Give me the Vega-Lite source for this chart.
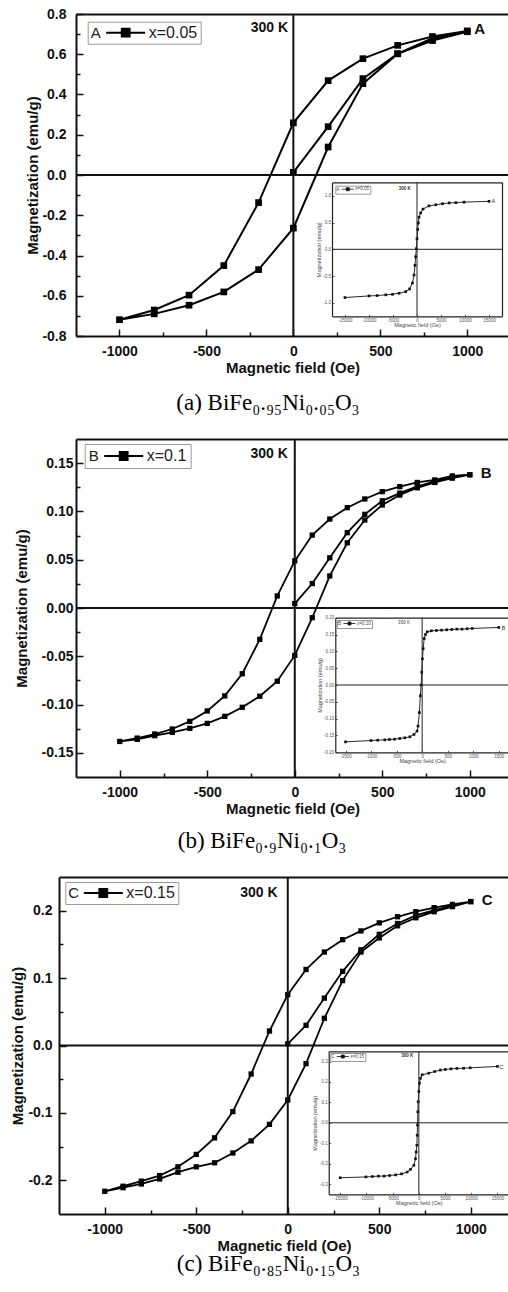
{
"$schema":"https://vega.github.io/schema/vega-lite/v6.json",
"padding":{"left":10,"top":7,"right":0,"bottom":0},
"background":"#ffffff",
"spacing":23,
"config":{"view":{"stroke":null},"font":"Liberation Sans","axis":{"grid":false,"labelFont":"Liberation Sans","titleFont":"Liberation Sans"},"legend":{"labelFont":"Liberation Sans","titleFont":"Liberation Sans"}},
"datasets":{
"A":[{"i":0,"H":0,"M":0.013},{"i":1,"H":200,"M":0.24},{"i":2,"H":400,"M":0.479},{"i":3,"H":600,"M":0.603},{"i":4,"H":800,"M":0.68},{"i":5,"H":1000,"M":0.716},{"i":6,"H":800,"M":0.688},{"i":7,"H":600,"M":0.644},{"i":8,"H":400,"M":0.578},{"i":9,"H":200,"M":0.469},{"i":10,"H":0,"M":0.259},{"i":11,"H":-200,"M":-0.137},{"i":12,"H":-400,"M":-0.45},{"i":13,"H":-600,"M":-0.597},{"i":14,"H":-800,"M":-0.671},{"i":15,"H":-1000,"M":-0.719},{"i":16,"H":-800,"M":-0.69},{"i":17,"H":-600,"M":-0.647},{"i":18,"H":-400,"M":-0.581},{"i":19,"H":-200,"M":-0.47},{"i":20,"H":0,"M":-0.264},{"i":21,"H":200,"M":0.139},{"i":22,"H":400,"M":0.454},{"i":23,"H":600,"M":0.602},{"i":24,"H":800,"M":0.668},{"i":25,"H":1000,"M":0.712}],
"B":[{"i":0,"H":0,"M":0.0046},{"i":1,"H":100,"M":0.0253},{"i":2,"H":200,"M":0.052},{"i":3,"H":300,"M":0.078},{"i":4,"H":400,"M":0.097},{"i":5,"H":500,"M":0.111},{"i":6,"H":600,"M":0.119},{"i":7,"H":700,"M":0.126},{"i":8,"H":800,"M":0.131},{"i":9,"H":900,"M":0.135},{"i":10,"H":1000,"M":0.138},{"i":11,"H":900,"M":0.1368},{"i":12,"H":800,"M":0.1326},{"i":13,"H":700,"M":0.13},{"i":14,"H":600,"M":0.1257},{"i":15,"H":500,"M":0.1205},{"i":16,"H":400,"M":0.1129},{"i":17,"H":300,"M":0.1039},{"i":18,"H":200,"M":0.0921},{"i":19,"H":100,"M":0.0755},{"i":20,"H":0,"M":0.0488},{"i":21,"H":-100,"M":0.0125},{"i":22,"H":-200,"M":-0.0325},{"i":23,"H":-300,"M":-0.0681},{"i":24,"H":-400,"M":-0.091},{"i":25,"H":-500,"M":-0.1066},{"i":26,"H":-600,"M":-0.1174},{"i":27,"H":-700,"M":-0.1253},{"i":28,"H":-800,"M":-0.1305},{"i":29,"H":-900,"M":-0.1347},{"i":30,"H":-1000,"M":-0.1382},{"i":31,"H":-900,"M":-0.136},{"i":32,"H":-800,"M":-0.1322},{"i":33,"H":-700,"M":-0.1288},{"i":34,"H":-600,"M":-0.1246},{"i":35,"H":-500,"M":-0.1195},{"i":36,"H":-400,"M":-0.1122},{"i":37,"H":-300,"M":-0.1028},{"i":38,"H":-200,"M":-0.0914},{"i":39,"H":-100,"M":-0.0758},{"i":40,"H":0,"M":-0.0491},{"i":41,"H":100,"M":-0.01},{"i":42,"H":200,"M":0.0332},{"i":43,"H":300,"M":0.0675},{"i":44,"H":400,"M":0.0911},{"i":45,"H":500,"M":0.1067},{"i":46,"H":600,"M":0.117},{"i":47,"H":700,"M":0.1245},{"i":48,"H":800,"M":0.13},{"i":49,"H":900,"M":0.1345},{"i":50,"H":1000,"M":0.138}],
"C":[{"i":0,"H":0,"M":0.0025},{"i":1,"H":100,"M":0.03},{"i":2,"H":200,"M":0.0703},{"i":3,"H":300,"M":0.11},{"i":4,"H":400,"M":0.142},{"i":5,"H":500,"M":0.165},{"i":6,"H":600,"M":0.181},{"i":7,"H":700,"M":0.193},{"i":8,"H":800,"M":0.201},{"i":9,"H":900,"M":0.207},{"i":10,"H":1000,"M":0.2135},{"i":11,"H":900,"M":0.2094},{"i":12,"H":800,"M":0.2045},{"i":13,"H":700,"M":0.1985},{"i":14,"H":600,"M":0.191},{"i":15,"H":500,"M":0.182},{"i":16,"H":400,"M":0.17},{"i":17,"H":300,"M":0.157},{"i":18,"H":200,"M":0.1387},{"i":19,"H":100,"M":0.1128},{"i":20,"H":0,"M":0.0754},{"i":21,"H":-100,"M":0.0215},{"i":22,"H":-200,"M":-0.0423},{"i":23,"H":-300,"M":-0.0981},{"i":24,"H":-400,"M":-0.137},{"i":25,"H":-500,"M":-0.1616},{"i":26,"H":-600,"M":-0.18},{"i":27,"H":-700,"M":-0.193},{"i":28,"H":-800,"M":-0.2013},{"i":29,"H":-900,"M":-0.2088},{"i":30,"H":-1000,"M":-0.2163},{"i":31,"H":-900,"M":-0.211},{"i":32,"H":-800,"M":-0.2054},{"i":33,"H":-700,"M":-0.198},{"i":34,"H":-600,"M":-0.188},{"i":35,"H":-500,"M":-0.18},{"i":36,"H":-400,"M":-0.174},{"i":37,"H":-300,"M":-0.1595},{"i":38,"H":-200,"M":-0.1415},{"i":39,"H":-100,"M":-0.117},{"i":40,"H":0,"M":-0.0808},{"i":41,"H":100,"M":-0.0269},{"i":42,"H":200,"M":0.0404},{"i":43,"H":300,"M":0.0963},{"i":44,"H":400,"M":0.1387},{"i":45,"H":500,"M":0.1596},{"i":46,"H":600,"M":0.1776},{"i":47,"H":700,"M":0.1895},{"i":48,"H":800,"M":0.1985},{"i":49,"H":900,"M":0.206},{"i":50,"H":1000,"M":0.2135}],
"iA":[{"i":0,"H":-15000,"M":-0.9},{"i":1,"H":-10000,"M":-0.87},{"i":2,"H":-8300,"M":-0.863},{"i":3,"H":-6500,"M":-0.85},{"i":4,"H":-5100,"M":-0.84},{"i":5,"H":-3750,"M":-0.82},{"i":6,"H":-2350,"M":-0.79},{"i":7,"H":-1550,"M":-0.74},{"i":8,"H":-950,"M":-0.63},{"i":9,"H":-620,"M":-0.48},{"i":10,"H":-420,"M":-0.3},{"i":11,"H":-280,"M":-0.14},{"i":12,"H":-140,"M":0.01},{"i":13,"H":0,"M":0.2},{"i":14,"H":140,"M":0.37},{"i":15,"H":280,"M":0.49},{"i":16,"H":420,"M":0.6},{"i":17,"H":770,"M":0.68},{"i":18,"H":1250,"M":0.75},{"i":19,"H":2500,"M":0.81},{"i":20,"H":3900,"M":0.83},{"i":21,"H":5300,"M":0.85},{"i":22,"H":6700,"M":0.865},{"i":23,"H":8100,"M":0.87},{"i":24,"H":9800,"M":0.88},{"i":25,"H":15000,"M":0.895}],
"iB":[{"i":0,"H":-1500,"M":-0.169},{"i":1,"H":-1000,"M":-0.165},{"i":2,"H":-870,"M":-0.164},{"i":3,"H":-730,"M":-0.163},{"i":4,"H":-640,"M":-0.162},{"i":5,"H":-540,"M":-0.161},{"i":6,"H":-440,"M":-0.159},{"i":7,"H":-340,"M":-0.157},{"i":8,"H":-240,"M":-0.154},{"i":9,"H":-160,"M":-0.147},{"i":10,"H":-100,"M":-0.137},{"i":11,"H":-80,"M":-0.122},{"i":12,"H":-55,"M":-0.082},{"i":13,"H":-35,"M":-0.032},{"i":14,"H":-20,"M":0.0},{"i":15,"H":-8,"M":0.038},{"i":16,"H":6,"M":0.078},{"i":17,"H":20,"M":0.108},{"i":18,"H":40,"M":0.138},{"i":19,"H":65,"M":0.15},{"i":20,"H":100,"M":0.158},{"i":21,"H":180,"M":0.161},{"i":22,"H":280,"M":0.162},{"i":23,"H":380,"M":0.163},{"i":24,"H":480,"M":0.164},{"i":25,"H":580,"M":0.165},{"i":26,"H":680,"M":0.166},{"i":27,"H":780,"M":0.166},{"i":28,"H":880,"M":0.167},{"i":29,"H":980,"M":0.168},{"i":30,"H":1500,"M":0.171}],
"iC":[{"i":0,"H":-15000,"M":-0.269},{"i":1,"H":-10100,"M":-0.265},{"i":2,"H":-8860,"M":-0.263},{"i":3,"H":-7720,"M":-0.261},{"i":4,"H":-6640,"M":-0.261},{"i":5,"H":-5570,"M":-0.258},{"i":6,"H":-4430,"M":-0.255},{"i":7,"H":-3300,"M":-0.25},{"i":8,"H":-2220,"M":-0.241},{"i":9,"H":-1590,"M":-0.228},{"i":10,"H":-950,"M":-0.208},{"i":11,"H":-640,"M":-0.176},{"i":12,"H":-510,"M":-0.143},{"i":13,"H":-380,"M":-0.11},{"i":14,"H":-320,"M":-0.061},{"i":15,"H":-260,"M":-0.011},{"i":16,"H":-190,"M":0.054},{"i":17,"H":-130,"M":0.103},{"i":18,"H":0,"M":0.153},{"i":19,"H":120,"M":0.194},{"i":20,"H":300,"M":0.218},{"i":21,"H":630,"M":0.235},{"i":22,"H":1900,"M":0.243},{"i":23,"H":3030,"M":0.251},{"i":24,"H":4100,"M":0.258},{"i":25,"H":5050,"M":0.261},{"i":26,"H":6130,"M":0.264},{"i":27,"H":7270,"M":0.266},{"i":28,"H":8540,"M":0.267},{"i":29,"H":9800,"M":0.269},{"i":30,"H":15000,"M":0.276}]
},
"vconcat":[
{
"width":433,"height":322,
"title":{"text":"(a) BiFe₀.₉₅Ni₀.₀₅O₃","orient":"bottom","anchor":"middle","frame":"bounds","font":"Liberation Serif","fontSize":23,"fontWeight":"normal","color":"#000000","offset":17},
"resolve":{"scale":{"x":"independent","y":"independent","color":"independent"}},
"layer":[
{"resolve":{"axis":{"x":"independent","y":"independent"}},
"layer":[
{"data":{"name":"A"},"mark":{"type":"line","strokeWidth":2},
"encoding":{
"x":{"field":"H","type":"quantitative","scale":{"domain":[-1250,1240],"range":[0,433],"nice":false,"zero":false},"axis":{"orient":"bottom","values":[-1000,-500,0,500,1000],"format":"d","labelExpr":"replace(datum.label,'−','-')","tickSize":-7,"tickWidth":1.5,"tickColor":"#111","domainWidth":2,"domainColor":"#111","labelFontWeight":"bold","labelFontSize":14,"labelColor":"#111","labelPadding":15,"labelFlush":false,"title":"Magnetic  field (Oe)","titleFontSize":15,"titleFontWeight":"bold","titleColor":"#111","titlePadding":2}},
"y":{"field":"M","type":"quantitative","scale":{"domain":[-0.8,0.8],"nice":false,"zero":false},"axis":{"orient":"left","values":[-0.8,-0.6,-0.4,-0.2,0,0.2,0.4,0.6,0.8],"format":".1f","labelExpr":"replace(datum.label,'−','-')","tickSize":-7,"tickWidth":1.5,"tickColor":"#111","domainWidth":2,"domainColor":"#111","labelFontWeight":"bold","labelFontSize":14,"labelColor":"#111","labelPadding":17,"title":"Magnetization (emu/g)","titleFontSize":15,"titleFontWeight":"bold","titleColor":"#111","titlePadding":1}},
"order":{"field":"i"},
"color":{"datum":"x=0.05","type":"nominal","scale":{"range":["#000000"]},"legend":{"title":"A","orient":"none","legendX":11.7,"legendY":7.7,"titleOrient":"left","titleAnchor":"middle","titleBaseline":"middle","titleFontSize":15,"titleFontWeight":"normal","titleColor":"#222","titlePadding":16,"labelFontSize":16,"labelColor":"#222","labelOffset":15,"symbolType":"M-3,0H3M-0.6,-0.6H0.6V0.6H-0.6Z","symbolSize":169,"symbolStrokeWidth":2,"strokeColor":"#9a9a9a","fillColor":"#ffffff","padding":3,"encode":{"symbols":{"update":{"fill":{"value":"#000"},"stroke":{"value":"#000"},"strokeWidth":{"value":2},"opacity":{"value":1}}}}}}}},
{"data":{"name":"A"},"mark":{"type":"point","shape":"square","filled":true,"size":45,"color":"#000","opacity":1},
"encoding":{
"x":{"field":"H","type":"quantitative","scale":{"domain":[-1250,1240],"range":[0,433],"nice":false,"zero":false},"axis":{"orient":"bottom","values":[-750,-250,250,750],"labels":false,"domain":false,"tickSize":-4,"tickWidth":1.5,"tickColor":"#111","title":null}},
"y":{"field":"M","type":"quantitative","scale":{"domain":[-0.8,0.8],"nice":false,"zero":false},"axis":{"orient":"left","values":[-0.7,-0.5,-0.3,-0.1,0.1,0.3,0.5,0.7],"labels":false,"domain":false,"tickSize":-4,"tickWidth":1.5,"tickColor":"#111","title":null}}}},
{"data":{"values":[{}]},"mark":{"type":"rule","strokeWidth":2,"color":"#111"},
"encoding":{"x":{"datum":0,"type":"quantitative","scale":{"domain":[-1250,1240],"range":[0,433],"nice":false,"zero":false},"axis":{"orient":"top","labels":false,"ticks":false,"domainWidth":2,"domainColor":"#111","title":null}}}},
{"data":{"values":[{}]},"mark":{"type":"rule","strokeWidth":2,"color":"#111"},
"encoding":{"y":{"datum":0,"type":"quantitative","scale":{"domain":[-0.8,0.8],"nice":false,"zero":false},"axis":null},"x":{"datum":-1250,"type":"quantitative","scale":{"domain":[-1250,1240],"range":[0,433],"nice":false,"zero":false},"axis":null},"x2":{"datum":1240}}},
{"data":{"values":[{"H":-30,"M":0.731,"t":"300 K"}]},"mark":{"type":"text","align":"right","baseline":"middle","fontWeight":"bold","fontSize":14,"color":"#111"},
"encoding":{"x":{"field":"H","type":"quantitative","scale":{"domain":[-1250,1240],"range":[0,433],"nice":false,"zero":false},"axis":null},"y":{"field":"M","type":"quantitative","scale":{"domain":[-0.8,0.8],"nice":false,"zero":false},"axis":null},"text":{"field":"t"}}},
{"data":{"values":[{"H":1040,"M":0.723,"t":"A"}]},"mark":{"type":"text","align":"left","baseline":"middle","fontWeight":"bold","fontSize":15,"color":"#111"},
"encoding":{"x":{"field":"H","type":"quantitative","scale":{"domain":[-1250,1240],"range":[0,433],"nice":false,"zero":false},"axis":null},"y":{"field":"M","type":"quantitative","scale":{"domain":[-0.8,0.8],"nice":false,"zero":false},"axis":null},"text":{"field":"t"}}}
]},
{"resolve":{"axis":{"x":"independent","y":"independent"}},
"layer":[
{"data":{"name":"iA"},"mark":{"type":"line","strokeWidth":0.9},
"encoding":{
"x":{"field":"H","type":"quantitative","scale":{"domain":[-17700,17700],"range":[256,426],"nice":false,"zero":false},"axis":{"orient":"bottom","offset":-19.7,"values":[-15000,-10000,-5000,0,5000,10000,15000],"format":"d","labelExpr":"replace(datum.label,'−','-')","tickSize":-2,"tickWidth":0.8,"tickColor":"#333","domainWidth":1.2,"domainColor":"#222","labelFontSize":4.5,"labelColor":"#555","labelPadding":3.5,"labelFlush":false,"labelOverlap":false,"title":"Magnetic  field (Oe)","titleFontSize":5.5,"titleFontWeight":"normal","titleColor":"#444","titlePadding":0.5}},
"y":{"field":"M","type":"quantitative","scale":{"domain":[-1.25,1.25],"range":[302.3,168.3],"nice":false,"zero":false},"axis":{"orient":"left","offset":-256,"values":[-1,-0.5,0,0.5,1],"format":".1f","labelExpr":"replace(datum.label,'−','-')","tickSize":-2,"tickWidth":0.8,"tickColor":"#333","domainWidth":1.2,"domainColor":"#222","labelFontSize":4.5,"labelColor":"#555","labelPadding":3.5,"labelOverlap":false,"title":"Magnetization (emu/g)","titleFontSize":5.5,"titleFontWeight":"normal","titleColor":"#444","titlePadding":1.5}},
"order":{"field":"i"},
"color":{"datum":"x=0.05","type":"nominal","scale":{"range":["#111111"]},"legend":{"title":"A","orient":"none","legendX":259.3,"legendY":171.7,"titleOrient":"left","titleAnchor":"middle","titleBaseline":"middle","titleFontSize":4.5,"titleFontWeight":"normal","titleColor":"#444","titlePadding":5,"labelFontSize":4.5,"labelColor":"#444","labelOffset":5,"symbolType":"M-3,0H3M-0.75,-0.75H0.75V0.75H-0.75Z","symbolSize":16,"symbolStrokeWidth":0.8,"strokeColor":"#999","fillColor":"#ffffff","padding":1,"encode":{"symbols":{"update":{"fill":{"value":"#111"},"stroke":{"value":"#111"},"strokeWidth":{"value":0.8},"opacity":{"value":1}}}}}}}},
{"data":{"name":"iA"},"mark":{"type":"point","shape":"square","filled":true,"size":7,"color":"#111","opacity":1},
"encoding":{
"x":{"field":"H","type":"quantitative","scale":{"domain":[-17700,17700],"range":[256,426],"nice":false,"zero":false},"axis":{"orient":"top","offset":-168.3,"labels":false,"ticks":false,"domainWidth":1.2,"domainColor":"#222","title":null}},
"y":{"field":"M","type":"quantitative","scale":{"domain":[-1.25,1.25],"range":[302.3,168.3],"nice":false,"zero":false},"axis":{"orient":"right","offset":-7,"labels":false,"ticks":false,"domainWidth":1.2,"domainColor":"#222","title":null}}}},
{"data":{"values":[{}]},"mark":{"type":"rule","strokeWidth":1,"color":"#222"},
"encoding":{"x":{"datum":0,"type":"quantitative","scale":{"domain":[-17700,17700],"range":[256,426],"nice":false,"zero":false},"axis":null},"y":{"datum":-1.25,"type":"quantitative","scale":{"domain":[-1.25,1.25],"range":[302.3,168.3],"nice":false,"zero":false},"axis":null},"y2":{"datum":1.25}}},
{"data":{"values":[{}]},"mark":{"type":"rule","strokeWidth":1,"color":"#222"},
"encoding":{"y":{"datum":0,"type":"quantitative","scale":{"domain":[-1.25,1.25],"range":[302.3,168.3],"nice":false,"zero":false},"axis":null},"x":{"datum":-17700,"type":"quantitative","scale":{"domain":[-17700,17700],"range":[256,426],"nice":false,"zero":false},"axis":null},"x2":{"datum":17700}}},
{"data":{"values":[{"H":-1300,"M":1.125,"t":"300 K"}]},"mark":{"type":"text","align":"right","baseline":"middle","fontWeight":"bold","fontSize":4.5,"color":"#333"},
"encoding":{"x":{"field":"H","type":"quantitative","scale":{"domain":[-17700,17700],"range":[256,426],"nice":false,"zero":false},"axis":null},"y":{"field":"M","type":"quantitative","scale":{"domain":[-1.25,1.25],"range":[302.3,168.3],"nice":false,"zero":false},"axis":null},"text":{"field":"t"}}},
{"data":{"values":[{"H":15500,"M":0.9,"t":"A"}]},"mark":{"type":"text","align":"left","baseline":"middle","fontSize":5.5,"color":"#333"},
"encoding":{"x":{"field":"H","type":"quantitative","scale":{"domain":[-17700,17700],"range":[256,426],"nice":false,"zero":false},"axis":null},"y":{"field":"M","type":"quantitative","scale":{"domain":[-1.25,1.25],"range":[302.3,168.3],"nice":false,"zero":false},"axis":null},"text":{"field":"t"}}}
]}
]
},
{
"width":433,"height":338,
"title":{"text":"(b) BiFe₀.₉Ni₀.₁O₃","orient":"bottom","anchor":"middle","frame":"bounds","font":"Liberation Serif","fontSize":23,"fontWeight":"normal","color":"#000000","offset":14},
"resolve":{"scale":{"x":"independent","y":"independent","color":"independent"}},
"layer":[
{"resolve":{"axis":{"x":"independent","y":"independent"}},
"layer":[
{"data":{"name":"B"},"mark":{"type":"line","strokeWidth":1.8},
"encoding":{
"x":{"field":"H","type":"quantitative","scale":{"domain":[-1250,1224],"range":[0,433],"nice":false,"zero":false},"axis":{"orient":"bottom","values":[-1000,-500,0,500,1000],"format":"d","labelExpr":"replace(datum.label,'−','-')","tickSize":-7,"tickWidth":1.5,"tickColor":"#111","domainWidth":2,"domainColor":"#111","labelFontWeight":"bold","labelFontSize":14,"labelColor":"#111","labelPadding":15,"labelFlush":false,"title":"Magnetic  field (Oe)","titleFontSize":15,"titleFontWeight":"bold","titleColor":"#111","titlePadding":2}},
"y":{"field":"M","type":"quantitative","scale":{"domain":[-0.175,0.175],"nice":false,"zero":false},"axis":{"orient":"left","values":[-0.15,-0.1,-0.05,0,0.05,0.1,0.15],"format":".2f","labelExpr":"replace(datum.label,'−','-')","tickSize":-7,"tickWidth":1.5,"tickColor":"#111","domainWidth":2,"domainColor":"#111","labelFontWeight":"bold","labelFontSize":14,"labelColor":"#111","labelPadding":10,"title":"Magnetization (emu/g)","titleFontSize":15,"titleFontWeight":"bold","titleColor":"#111","titlePadding":12}},
"order":{"field":"i"},
"color":{"datum":"x=0.1","type":"nominal","scale":{"range":["#000000"]},"legend":{"title":"B","orient":"none","legendX":8.7,"legendY":5,"titleOrient":"left","titleAnchor":"middle","titleBaseline":"middle","titleFontSize":15,"titleFontWeight":"normal","titleColor":"#222","titlePadding":16,"labelFontSize":16,"labelColor":"#222","labelOffset":15,"symbolType":"M-3,0H3M-0.6,-0.6H0.6V0.6H-0.6Z","symbolSize":169,"symbolStrokeWidth":2,"strokeColor":"#9a9a9a","fillColor":"#ffffff","padding":4,"encode":{"symbols":{"update":{"fill":{"value":"#000"},"stroke":{"value":"#000"},"strokeWidth":{"value":2},"opacity":{"value":1}}}}}}}},
{"data":{"name":"B"},"mark":{"type":"point","shape":"square","filled":true,"size":28,"color":"#000","opacity":1},
"encoding":{
"x":{"field":"H","type":"quantitative","scale":{"domain":[-1250,1224],"range":[0,433],"nice":false,"zero":false},"axis":{"orient":"bottom","values":[-750,-250,250,750],"labels":false,"domain":false,"tickSize":-4,"tickWidth":1.5,"tickColor":"#111","title":null}},
"y":{"field":"M","type":"quantitative","scale":{"domain":[-0.175,0.175],"nice":false,"zero":false},"axis":{"orient":"left","values":[-0.125,-0.075,-0.025,0.025,0.075,0.125],"labels":false,"domain":false,"tickSize":-4,"tickWidth":1.5,"tickColor":"#111","title":null}}}},
{"data":{"values":[{}]},"mark":{"type":"rule","strokeWidth":2,"color":"#111"},
"encoding":{"x":{"datum":0,"type":"quantitative","scale":{"domain":[-1250,1224],"range":[0,433],"nice":false,"zero":false},"axis":{"orient":"top","labels":false,"ticks":false,"domainWidth":2,"domainColor":"#111","title":null}}}},
{"data":{"values":[{}]},"mark":{"type":"rule","strokeWidth":2,"color":"#111"},
"encoding":{"y":{"datum":0,"type":"quantitative","scale":{"domain":[-0.175,0.175],"nice":false,"zero":false},"axis":null},"x":{"datum":-1250,"type":"quantitative","scale":{"domain":[-1250,1224],"range":[0,433],"nice":false,"zero":false},"axis":null},"x2":{"datum":1224}}},
{"data":{"values":[{"H":-40,"M":0.159,"t":"300 K"}]},"mark":{"type":"text","align":"right","baseline":"middle","fontWeight":"bold","fontSize":14,"color":"#111"},
"encoding":{"x":{"field":"H","type":"quantitative","scale":{"domain":[-1250,1224],"range":[0,433],"nice":false,"zero":false},"axis":null},"y":{"field":"M","type":"quantitative","scale":{"domain":[-0.175,0.175],"nice":false,"zero":false},"axis":null},"text":{"field":"t"}}},
{"data":{"values":[{"H":1062,"M":0.1396,"t":"B"}]},"mark":{"type":"text","align":"left","baseline":"middle","fontWeight":"bold","fontSize":15,"color":"#111"},
"encoding":{"x":{"field":"H","type":"quantitative","scale":{"domain":[-1250,1224],"range":[0,433],"nice":false,"zero":false},"axis":null},"y":{"field":"M","type":"quantitative","scale":{"domain":[-0.175,0.175],"nice":false,"zero":false},"axis":null},"text":{"field":"t"}}}
]},
{"resolve":{"axis":{"x":"independent","y":"independent"}},
"layer":[
{"data":{"name":"iB"},"mark":{"type":"line","strokeWidth":0.9},
"encoding":{
"x":{"field":"H","type":"quantitative","scale":{"domain":[-1700,1700],"range":[259.3,433],"nice":false,"zero":false},"axis":{"orient":"bottom","offset":-24.7,"values":[-1500,-1000,-500,0,500,1000,1500],"format":"d","labelExpr":"replace(datum.label,'−','-')","tickSize":-2,"tickWidth":0.8,"tickColor":"#333","domainWidth":1.2,"domainColor":"#222","labelFontSize":4.5,"labelColor":"#555","labelPadding":3.5,"labelFlush":false,"labelOverlap":false,"title":"Magnetic  field (Oe)","titleFontSize":5.5,"titleFontWeight":"normal","titleColor":"#444","titlePadding":0.5}},
"y":{"field":"M","type":"quantitative","scale":{"domain":[-0.2,0.2],"range":[313.3,178.7],"nice":false,"zero":false},"axis":{"orient":"left","offset":-259.3,"values":[-0.2,-0.15,-0.1,-0.05,0,0.05,0.1,0.15,0.2],"format":".2f","labelExpr":"replace(datum.label,'−','-')","tickSize":-2,"tickWidth":0.8,"tickColor":"#333","domainWidth":1.2,"domainColor":"#222","labelFontSize":4.5,"labelColor":"#555","labelPadding":3.5,"labelOverlap":false,"title":"Magnetization (emu/g)","titleFontSize":5.5,"titleFontWeight":"normal","titleColor":"#444","titlePadding":1.5}},
"order":{"field":"i"},
"color":{"datum":"x=0.10","type":"nominal","scale":{"range":["#111111"]},"legend":{"title":"B","orient":"none","legendX":261,"legendY":181,"titleOrient":"left","titleAnchor":"middle","titleBaseline":"middle","titleFontSize":4.5,"titleFontWeight":"normal","titleColor":"#444","titlePadding":5,"labelFontSize":4.5,"labelColor":"#444","labelOffset":5,"symbolType":"M-3,0H3M-0.75,-0.75H0.75V0.75H-0.75Z","symbolSize":16,"symbolStrokeWidth":0.8,"strokeColor":"#999","fillColor":"#ffffff","padding":1,"encode":{"symbols":{"update":{"fill":{"value":"#111"},"stroke":{"value":"#111"},"strokeWidth":{"value":0.8},"opacity":{"value":1}}}}}}}},
{"data":{"name":"iB"},"mark":{"type":"point","shape":"square","filled":true,"size":7,"color":"#111","opacity":1},
"encoding":{
"x":{"field":"H","type":"quantitative","scale":{"domain":[-1700,1700],"range":[259.3,433],"nice":false,"zero":false},"axis":{"orient":"top","offset":-178.7,"labels":false,"ticks":false,"domainWidth":1.2,"domainColor":"#222","title":null}},
"y":{"field":"M","type":"quantitative","scale":{"domain":[-0.2,0.2],"range":[313.3,178.7],"nice":false,"zero":false},"axis":{"orient":"right","offset":0,"labels":false,"ticks":false,"domainWidth":1.2,"domainColor":"#222","title":null}}}},
{"data":{"values":[{}]},"mark":{"type":"rule","strokeWidth":1,"color":"#222"},
"encoding":{"x":{"datum":0,"type":"quantitative","scale":{"domain":[-1700,1700],"range":[259.3,433],"nice":false,"zero":false},"axis":null},"y":{"datum":-0.2,"type":"quantitative","scale":{"domain":[-0.2,0.2],"range":[313.3,178.7],"nice":false,"zero":false},"axis":null},"y2":{"datum":0.2}}},
{"data":{"values":[{}]},"mark":{"type":"rule","strokeWidth":1,"color":"#222"},
"encoding":{"y":{"datum":0,"type":"quantitative","scale":{"domain":[-0.2,0.2],"range":[313.3,178.7],"nice":false,"zero":false},"axis":null},"x":{"datum":-1700,"type":"quantitative","scale":{"domain":[-1700,1700],"range":[259.3,433],"nice":false,"zero":false},"axis":null},"x2":{"datum":1700}}},
{"data":{"values":[{"H":-240,"M":0.183,"t":"300 K"}]},"mark":{"type":"text","align":"right","baseline":"middle","fontSize":4.5,"color":"#333"},
"encoding":{"x":{"field":"H","type":"quantitative","scale":{"domain":[-1700,1700],"range":[259.3,433],"nice":false,"zero":false},"axis":null},"y":{"field":"M","type":"quantitative","scale":{"domain":[-0.2,0.2],"range":[313.3,178.7],"nice":false,"zero":false},"axis":null},"text":{"field":"t"}}},
{"data":{"values":[{"H":1560,"M":0.168,"t":"B"}]},"mark":{"type":"text","align":"left","baseline":"middle","fontSize":5.5,"color":"#333"},
"encoding":{"x":{"field":"H","type":"quantitative","scale":{"domain":[-1700,1700],"range":[259.3,433],"nice":false,"zero":false},"axis":null},"y":{"field":"M","type":"quantitative","scale":{"domain":[-0.2,0.2],"range":[313.3,178.7],"nice":false,"zero":false},"axis":null},"text":{"field":"t"}}}
]}
]
},
{
"width":433,"height":337,
"title":{"text":"(c) BiFe₀.₈₅Ni₀.₁₅O₃","orient":"bottom","anchor":"middle","frame":"bounds","font":"Liberation Serif","fontSize":23,"fontWeight":"normal","color":"#000000","offset":0},
"resolve":{"scale":{"x":"independent","y":"independent","color":"independent"}},
"layer":[
{"resolve":{"axis":{"x":"independent","y":"independent"}},
"layer":[
{"data":{"name":"C"},"mark":{"type":"line","strokeWidth":1.8},
"encoding":{
"x":{"field":"H","type":"quantitative","scale":{"domain":[-1250,1209],"range":[-17,433],"nice":false,"zero":false},"axis":{"orient":"bottom","values":[-1000,-500,0,500,1000],"format":"d","labelExpr":"replace(datum.label,'−','-')","tickSize":-7,"tickWidth":1.5,"tickColor":"#111","domainWidth":2,"domainColor":"#111","labelFontWeight":"bold","labelFontSize":14,"labelColor":"#111","labelPadding":15,"labelFlush":false,"title":"Magnetic  field (Oe)","titleFontSize":15,"titleFontWeight":"bold","titleColor":"#111","titlePadding":2}},
"y":{"field":"M","type":"quantitative","scale":{"domain":[-0.25,0.25],"nice":false,"zero":false},"axis":{"orient":"left","offset":17,"values":[-0.2,-0.1,0,0.1,0.2],"format":".1f","labelExpr":"replace(datum.label,'−','-')","tickSize":-7,"tickWidth":1.5,"tickColor":"#111","domainWidth":2,"domainColor":"#111","labelFontWeight":"bold","labelFontSize":14,"labelColor":"#111","labelPadding":14,"title":"Magnetization (emu/g)","titleFontSize":15,"titleFontWeight":"bold","titleColor":"#111","titlePadding":2}},
"order":{"field":"i"},
"color":{"datum":"x=0.15","type":"nominal","scale":{"range":["#000000"]},"legend":{"title":"C","orient":"none","legendX":-10.7,"legendY":5,"titleOrient":"left","titleAnchor":"middle","titleBaseline":"middle","titleFontSize":15,"titleFontWeight":"normal","titleColor":"#222","titlePadding":16,"labelFontSize":16,"labelColor":"#222","labelOffset":15,"symbolType":"M-3,0H3M-0.6,-0.6H0.6V0.6H-0.6Z","symbolSize":169,"symbolStrokeWidth":2,"strokeColor":"#9a9a9a","fillColor":"#ffffff","padding":3,"encode":{"symbols":{"update":{"fill":{"value":"#000"},"stroke":{"value":"#000"},"strokeWidth":{"value":2},"opacity":{"value":1}}}}}}}},
{"data":{"name":"C"},"mark":{"type":"point","shape":"square","filled":true,"size":28,"color":"#000","opacity":1},
"encoding":{
"x":{"field":"H","type":"quantitative","scale":{"domain":[-1250,1209],"range":[-17,433],"nice":false,"zero":false},"axis":{"orient":"bottom","values":[-750,-250,250,750],"labels":false,"domain":false,"tickSize":-4,"tickWidth":1.5,"tickColor":"#111","title":null}},
"y":{"field":"M","type":"quantitative","scale":{"domain":[-0.25,0.25],"nice":false,"zero":false},"axis":{"orient":"left","offset":17,"values":[-0.15,-0.05,0.05,0.15],"labels":false,"domain":false,"tickSize":-4,"tickWidth":1.5,"tickColor":"#111","title":null}}}},
{"data":{"values":[{}]},"mark":{"type":"rule","strokeWidth":2,"color":"#111"},
"encoding":{"x":{"datum":0,"type":"quantitative","scale":{"domain":[-1250,1209],"range":[-17,433],"nice":false,"zero":false},"axis":{"orient":"top","labels":false,"ticks":false,"domainWidth":2,"domainColor":"#111","title":null}}}},
{"data":{"values":[{}]},"mark":{"type":"rule","strokeWidth":2,"color":"#111"},
"encoding":{"y":{"datum":0,"type":"quantitative","scale":{"domain":[-0.25,0.25],"nice":false,"zero":false},"axis":null},"x":{"datum":-1250,"type":"quantitative","scale":{"domain":[-1250,1209],"range":[-17,433],"nice":false,"zero":false},"axis":null},"x2":{"datum":1209}}},
{"data":{"values":[{"H":-56,"M":0.226,"t":"300 K"}]},"mark":{"type":"text","align":"right","baseline":"middle","fontWeight":"bold","fontSize":14,"color":"#111"},
"encoding":{"x":{"field":"H","type":"quantitative","scale":{"domain":[-1250,1209],"range":[-17,433],"nice":false,"zero":false},"axis":null},"y":{"field":"M","type":"quantitative","scale":{"domain":[-0.25,0.25],"nice":false,"zero":false},"axis":null},"text":{"field":"t"}}},
{"data":{"values":[{"H":1060,"M":0.2156,"t":"C"}]},"mark":{"type":"text","align":"left","baseline":"middle","fontWeight":"bold","fontSize":15,"color":"#111"},
"encoding":{"x":{"field":"H","type":"quantitative","scale":{"domain":[-1250,1209],"range":[-17,433],"nice":false,"zero":false},"axis":null},"y":{"field":"M","type":"quantitative","scale":{"domain":[-0.25,0.25],"nice":false,"zero":false},"axis":null},"text":{"field":"t"}}}
]},
{"resolve":{"axis":{"x":"independent","y":"independent"}},
"layer":[
{"data":{"name":"iC"},"mark":{"type":"line","strokeWidth":0.9},
"encoding":{
"x":{"field":"H","type":"quantitative","scale":{"domain":[-17200,17200],"range":[252.7,433],"nice":false,"zero":false},"axis":{"orient":"bottom","offset":-19.7,"values":[-15000,-10000,-5000,0,5000,10000,15000],"format":"d","labelExpr":"replace(datum.label,'−','-')","tickSize":-2,"tickWidth":0.8,"tickColor":"#333","domainWidth":1.2,"domainColor":"#222","labelFontSize":4.5,"labelColor":"#555","labelPadding":3.5,"labelFlush":false,"labelOverlap":false,"title":"Magnetic  field (Oe)","titleFontSize":5.5,"titleFontWeight":"normal","titleColor":"#444","titlePadding":0.5}},
"y":{"field":"M","type":"quantitative","scale":{"domain":[-0.35,0.35],"range":[317.3,174.3],"nice":false,"zero":false},"axis":{"orient":"left","offset":-252.7,"values":[-0.3,-0.2,-0.1,0,0.1,0.2,0.3],"format":".1f","labelExpr":"replace(datum.label,'−','-')","tickSize":-2,"tickWidth":0.8,"tickColor":"#333","domainWidth":1.2,"domainColor":"#222","labelFontSize":4.5,"labelColor":"#555","labelPadding":3.5,"labelOverlap":false,"title":"Magnetization (emu/g)","titleFontSize":5.5,"titleFontWeight":"normal","titleColor":"#444","titlePadding":1.5}},
"order":{"field":"i"},
"color":{"datum":"x=0.15","type":"nominal","scale":{"range":["#111111"]},"legend":{"title":"C","orient":"none","legendX":254.3,"legendY":176,"titleOrient":"left","titleAnchor":"middle","titleBaseline":"middle","titleFontSize":4.5,"titleFontWeight":"normal","titleColor":"#444","titlePadding":5,"labelFontSize":4.5,"labelColor":"#444","labelOffset":5,"symbolType":"M-3,0H3M-0.75,-0.75H0.75V0.75H-0.75Z","symbolSize":16,"symbolStrokeWidth":0.8,"strokeColor":"#999","fillColor":"#ffffff","padding":1,"encode":{"symbols":{"update":{"fill":{"value":"#111"},"stroke":{"value":"#111"},"strokeWidth":{"value":0.8},"opacity":{"value":1}}}}}}}},
{"data":{"name":"iC"},"mark":{"type":"point","shape":"square","filled":true,"size":7,"color":"#111","opacity":1},
"encoding":{
"x":{"field":"H","type":"quantitative","scale":{"domain":[-17200,17200],"range":[252.7,433],"nice":false,"zero":false},"axis":{"orient":"top","offset":-174.3,"labels":false,"ticks":false,"domainWidth":1.2,"domainColor":"#222","title":null}},
"y":{"field":"M","type":"quantitative","scale":{"domain":[-0.35,0.35],"range":[317.3,174.3],"nice":false,"zero":false},"axis":{"orient":"right","offset":0,"labels":false,"ticks":false,"domainWidth":1.2,"domainColor":"#222","title":null}}}},
{"data":{"values":[{}]},"mark":{"type":"rule","strokeWidth":1,"color":"#222"},
"encoding":{"x":{"datum":0,"type":"quantitative","scale":{"domain":[-17200,17200],"range":[252.7,433],"nice":false,"zero":false},"axis":null},"y":{"datum":-0.35,"type":"quantitative","scale":{"domain":[-0.35,0.35],"range":[317.3,174.3],"nice":false,"zero":false},"axis":null},"y2":{"datum":0.35}}},
{"data":{"values":[{}]},"mark":{"type":"rule","strokeWidth":1,"color":"#222"},
"encoding":{"y":{"datum":0,"type":"quantitative","scale":{"domain":[-0.35,0.35],"range":[317.3,174.3],"nice":false,"zero":false},"axis":null},"x":{"datum":-17200,"type":"quantitative","scale":{"domain":[-17200,17200],"range":[252.7,433],"nice":false,"zero":false},"axis":null},"x2":{"datum":17200}}},
{"data":{"values":[{"H":-1070,"M":0.3255,"t":"300 K"}]},"mark":{"type":"text","align":"right","baseline":"middle","fontWeight":"bold","fontSize":4.5,"color":"#333"},
"encoding":{"x":{"field":"H","type":"quantitative","scale":{"domain":[-17200,17200],"range":[252.7,433],"nice":false,"zero":false},"axis":null},"y":{"field":"M","type":"quantitative","scale":{"domain":[-0.35,0.35],"range":[317.3,174.3],"nice":false,"zero":false},"axis":null},"text":{"field":"t"}}},
{"data":{"values":[{"H":15400,"M":0.272,"t":"C"}]},"mark":{"type":"text","align":"left","baseline":"middle","fontSize":5.5,"color":"#333"},
"encoding":{"x":{"field":"H","type":"quantitative","scale":{"domain":[-17200,17200],"range":[252.7,433],"nice":false,"zero":false},"axis":null},"y":{"field":"M","type":"quantitative","scale":{"domain":[-0.35,0.35],"range":[317.3,174.3],"nice":false,"zero":false},"axis":null},"text":{"field":"t"}}}
]}
]
}
]
}
